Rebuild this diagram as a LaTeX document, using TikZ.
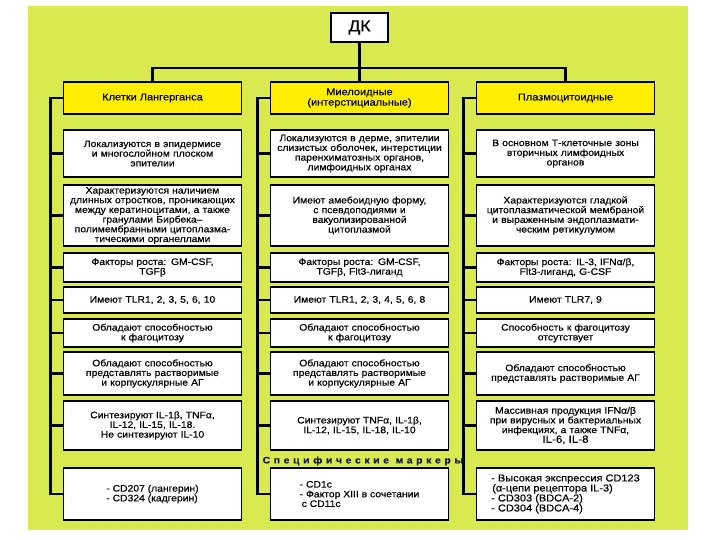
\documentclass[tikz,border=0pt]{standalone}
\usepackage{fontspec}
\setmainfont[FakeStretch=1.1,FakeBold=0.4]{Liberation Sans}
\definecolor{bggreen}{RGB}{216,234,80}
\definecolor{headyellow}{RGB}{255,238,0}
\definecolor{markerblue}{RGB}{25,25,60}

\begin{document}
\begin{tikzpicture}
    [x=1pt,y=-1pt,
     every node/.style={font=\fontsize{9.4}{9.7}\selectfont},
     cell/.style={draw,line width=1.9pt,fill=white,minimum width=178pt,text width=174pt,align=center,inner sep=0pt},
     listcell/.style={draw,line width=1.9pt,fill=white,minimum width=178pt,minimum height=52pt,align=left,inner sep=0pt},
     head/.style={draw,line width=1.9pt,fill=headyellow,minimum width=178pt,minimum height=32pt,align=center,inner sep=0pt,font=\fontsize{10}{10.4}\selectfont},
     wire/.style={line width=2.3pt}]
    \useasboundingbox (0,0) rectangle (720,540);
    \fill[bggreen] (28,6) rectangle (688,530);

    \node[draw,line width=1.9pt,fill=white,minimum width=57pt,minimum height=29pt,font=\fontsize{16}{16}\selectfont] (dk) at (359.5,27.5) {ДК};
    \coordinate (bus) at (359.5,68);

    \node[head] (hL) at (152.5,98) {Клетки Лангерганса};
    \node[head] (hM) at (359.5,98) {Миелоидные\\(интерстициальные)};
    \node[head] (hP) at (565.5,98) {Плазмоцитоидные};

    % Langerhans
    \node[cell,minimum height=47pt] (L1) at (152.5,153.5) {Локализуются в эпидермисе\\и многослойном плоском\\эпителии};
    \node[cell,minimum height=61pt] (L2) at (152.5,215.5) {Характеризуются наличием\\длинных отростков, проникающих\\между кератиноцитами, а также\\гранулами Бирбека–\\полимембранными цитоплазма-\\тическими органеллами};
    \node[cell,minimum height=29pt] (L3) at (152.5,267.5) {Факторы роста: GM-CSF,\\TGFβ};
    \node[cell,minimum height=26pt] (L4) at (152.5,300) {Имеют TLR1, 2, 3, 5, 6, 10};
    \node[cell,minimum height=28pt] (L5) at (152.5,333) {Обладают способностью\\к фагоцитозу};
    \node[cell,minimum height=43pt] (L6) at (152.5,373.5) {Обладают способностью\\представлять растворимые\\и корпускулярные АГ};
    \node[cell,minimum height=49pt] (L7) at (152.5,425.5) {Синтезируют IL-1β, TNFα,\\IL-12, IL-15, IL-18.\\Не синтезируют IL-10};
    \node[listcell] (L8) at (152.5,494) {- CD207 (лангерин)\\- CD324 (кадгерин)};

    % myeloid
    \node[cell,minimum height=47pt] (M1) at (359.5,153.5) {Локализуются в дерме, эпителии\\слизистых оболочек, интерстиции\\паренхиматозных органов,\\лимфоидных органах};
    \node[cell,minimum height=61pt] (M2) at (359.5,215.5) {Имеют амебоидную форму,\\с псевдоподиями и\\вакуолизированной\\цитоплазмой};
    \node[cell,minimum height=29pt] (M3) at (359.5,267.5) {Факторы роста: GM-CSF,\\TGFβ, Flt3-лиганд};
    \node[cell,minimum height=26pt] (M4) at (359.5,300) {Имеют TLR1, 2, 3, 4, 5, 6, 8};
    \node[cell,minimum height=28pt] (M5) at (359.5,333) {Обладают способностью\\к фагоцитозу};
    \node[cell,minimum height=43pt] (M6) at (359.5,373.5) {Обладают способностью\\представлять растворимые\\и корпускулярные АГ};
    \node[cell,minimum height=49pt] (M7) at (359.5,425.5) {Синтезируют TNFα, IL-1β,\\IL-12, IL-15, IL-18, IL-10};
    \node[listcell] (M8) at (359.5,494) {- CD1c\\- Фактор XIII в сочетании\\\hspace{2pt}с CD11c};

    % plasmacytoid
    \node[cell,minimum height=47pt] (P1) at (565.5,153.5) {В основном Т-клеточные зоны\\вторичных лимфоидных\\органов};
    \node[cell,minimum height=61pt] (P2) at (565.5,215.5) {Характеризуются гладкой\\цитоплазматической мембраной\\и выраженным эндоплазмати-\\ческим ретикулумом};
    \node[cell,minimum height=29pt] (P3) at (565.5,267.5) {Факторы роста: IL-3, IFNα/β,\\Flt3-лиганд, G-CSF};
    \node[cell,minimum height=26pt] (P4) at (565.5,300) {Имеют TLR7, 9};
    \node[cell,minimum height=28pt] (P5) at (565.5,333) {Способность к фагоцитозу\\отсутствует};
    \node[cell,minimum height=43pt] (P6) at (565.5,373.5) {Обладают способностью\\представлять растворимые АГ};
    \node[cell,minimum height=49pt] (P7) at (565.5,425.5) {Массивная продукция IFNα/β\\при вирусных и бактериальных\\инфекциях, а также TNFα,\\{\fontsize{10.5}{10}\selectfont IL-6, IL-8}};
    \node[listcell,font=\fontsize{10}{10}\selectfont] (P8) at (565.5,494) {- Высокая экспрессия CD123\\\hspace{1pt}(α-цепи рецептора IL-3)\\- CD303 (BDCA-2)\\- CD304 (BDCA-4)};

    \node[text=markerblue,font=\fontsize{9.5}{10}\selectfont\bfseries\addfontfeature{LetterSpace=38}] (markers) at (363,461) {Специфические маркеры};

    \draw[wire] (dk.south) -- (hM.north);
    \draw[wire] (hL.north) |- (bus) -| (hP.north);
    \foreach \c in {L,M,P} {
      \draw[wire] (h\c.west) -- ++(-12,0) |- (\c8.west);
      \foreach \i in {1,...,7}
        \draw[wire] (\c\i.west) -- ++(-12,0);
    }
  \end{tikzpicture}
\end{document}
